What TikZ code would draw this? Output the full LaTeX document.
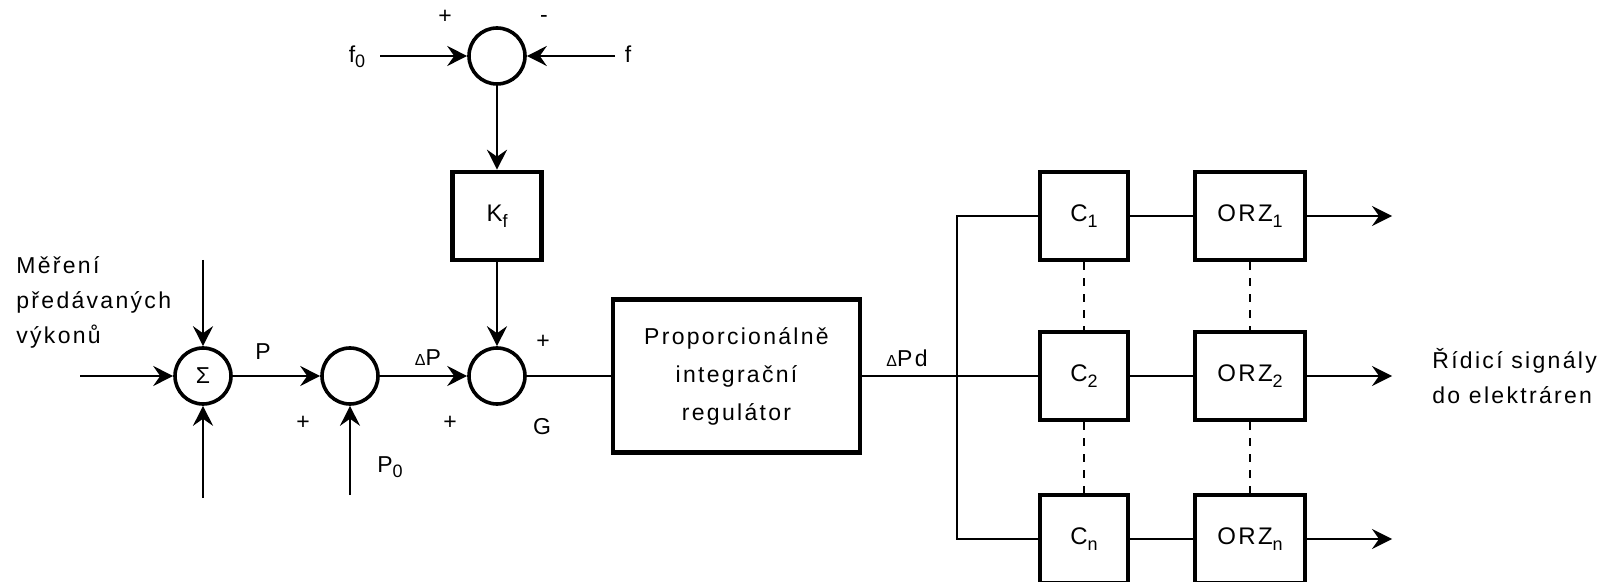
\documentclass[tikz,border=0pt]{standalone}
\usepackage{fontspec}
\setmainfont{Liberation Sans}[LetterSpace=10]
\usetikzlibrary{arrows.meta}
\newcommand{\lsub}[1]{\raisebox{-0.45ex}{\fontsize{9}{9}\selectfont #1}}
\newcommand{\smDelta}{{\fontsize{8}{8}\selectfont Δ}}
\begin{document}
\begin{tikzpicture}[x=0.5pt,y=-0.5pt,
  txt/.style={font=\fontsize{11.5}{17.5}\selectfont, inner sep=0pt},
  sumnode/.style={circle, draw, line width=1.8pt, minimum size=28pt, inner sep=0pt, font=\fontsize{11.5}{14}\selectfont},
  blk/.style={rectangle, draw, line width=2.3pt, inner sep=0pt, font=\fontsize{12}{19}\selectfont},
  cbox/.style={blk, minimum width=44pt, minimum height=44pt},
  obox/.style={blk, minimum width=55pt, minimum height=44pt},
  conn/.style={line width=1pt},
  arr/.style={conn, -{Stealth[length=10pt,width=10pt,inset=3.5pt]}},
  dsh/.style={line width=1pt, dash pattern=on 4pt off 4pt},
]
\useasboundingbox (0,0) rectangle (1600,582);

% summing junctions
\node[sumnode] (s0) at (497,56) {};
\node[sumnode] (sig) at (203,376) {Σ};
\node[sumnode] (s2) at (350,376) {};
\node[sumnode] (s3) at (497,376) {};

% blocks
\node[blk, minimum width=44.5pt, minimum height=44pt] (kf) at (497,216) {K\lsub{f}};
\node[blk, minimum width=123.5pt, minimum height=76.5pt, align=center, font=\fontsize{11.5}{19}\selectfont] (pi) at (736.5,376) {Proporcionálně\\integrační\\regulátor};

\node[cbox] (c1) at (1084,216) {C\lsub{1}};
\node[cbox] (c2) at (1084,376) {C\lsub{2}};
\node[cbox] (cn) at (1084,539) {C\lsub{n}};
\node[obox] (o1) at (1250,216) {ORZ\lsub{1}};
\node[obox] (o2) at (1250,376) {ORZ\lsub{2}};
\node[obox] (on) at (1250,539) {ORZ\lsub{n}};

% free ends
\coordinate (f0in) at (380,56);
\coordinate (fin) at (615,56);
\coordinate (inl) at (80,376);
\coordinate (intop) at (203,260);
\coordinate (inbot) at (203,498);
\coordinate (p0in) at (350,495);
\coordinate (bus) at (957,376);
\coordinate (out1) at (1392,216);
\coordinate (out2) at (1392,376);
\coordinate (outn) at (1392,539);

% connectors
\draw[arr] (f0in) -- (s0);
\draw[arr] (fin) -- (s0);
\draw[arr] (s0) -- (kf);
\draw[arr] (kf) -- (s3);
\draw[arr] (inl) -- (sig);
\draw[arr] (intop) -- (sig);
\draw[arr] (inbot) -- (sig);
\draw[arr] (sig) -- (s2);
\draw[arr] (p0in) -- (s2);
\draw[arr] (s2) -- (s3);
\draw[conn] (s3) -- (pi);
\draw[conn] (pi.east) -- (bus);
\draw[conn] (c1.west) -| (bus) |- (cn.west);
\draw[conn] (bus) -- (c2.west);
\draw[conn] (c1) -- (o1);
\draw[conn] (c2) -- (o2);
\draw[conn] (cn) -- (on);
\draw[arr] (o1) -- (out1);
\draw[arr] (o2) -- (out2);
\draw[arr] (on) -- (outn);
\draw[dsh] (c1) -- (c2);
\draw[dsh] (c2) -- (cn);
\draw[dsh] (o1) -- (o2);
\draw[dsh] (o2) -- (on);

% labels
\node[txt] (lf0) at (357,57) {f\lsub{0}};
\node[txt] (lf) at (628,54) {f};
\node[txt] (lp1) at (445,17) {+};
\node[txt] (lm1) at (544,19) {-};
\node[txt] (lP) at (263,352) {P};
\node[txt] (lp2) at (303,423) {+};
\node[txt] (lP0) at (390,467) {P\lsub{0}};
\node[txt] (ldP) at (428,358) {\smDelta P};
\node[txt] (lp3) at (450,423) {+};
\node[txt] (lp4) at (543,342) {+};
\node[txt] (lG) at (542,427) {G};
\node[txt] (ldPd) at (907,358) {\smDelta Pd};
\node[txt, anchor=west, align=left] (lin) at (16,302) {Měření\\předávaných\\výkonů};
\node[txt, anchor=west, align=left] (lout) at (1432,376) {Řídicí signály\\do elektráren};
\end{tikzpicture}
\end{document}
